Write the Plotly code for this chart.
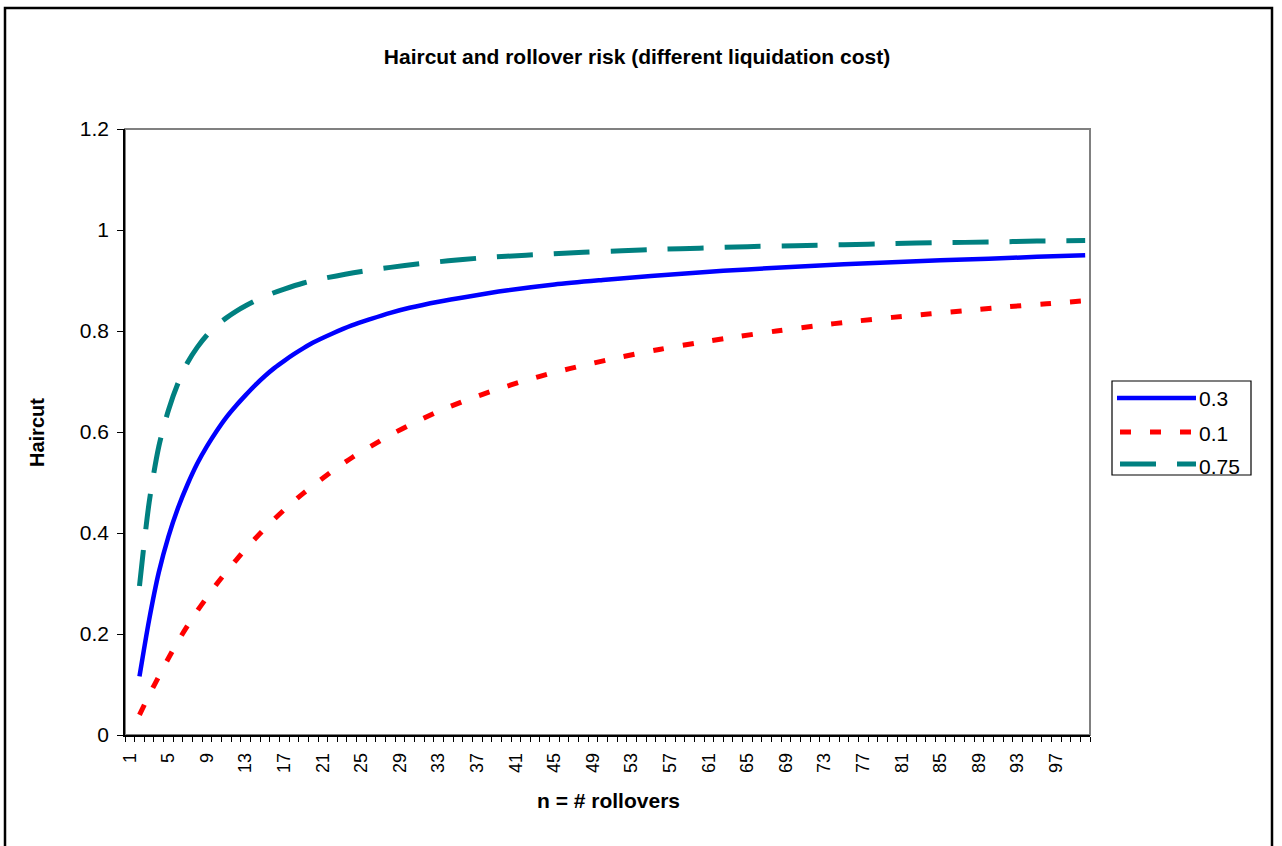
import plotly.graph_objects as go

# Haircut as a function of the number of rollovers, for three liquidation costs
n_03 = [2, 3, 4, 5, 6, 7, 8, 9, 10, 11, 12, 13, 14, 15, 16, 17, 18, 19, 20,
        22, 24, 26, 28, 30, 33, 36, 40, 45, 50, 55, 60, 65, 70, 75, 80, 85, 90, 95, 100]
h_03 = [0.116, 0.228, 0.322, 0.393, 0.450, 0.497, 0.538, 0.572, 0.602, 0.629,
        0.652, 0.673, 0.693, 0.711, 0.727, 0.741, 0.754, 0.766, 0.777,
        0.795, 0.811, 0.824, 0.836, 0.846, 0.858, 0.868, 0.880, 0.892, 0.901,
        0.909, 0.916, 0.922, 0.927, 0.932, 0.936, 0.940, 0.943, 0.947, 0.950]

n_01 = [2, 3, 4, 5, 6, 7, 8, 9, 10, 11, 12, 13, 14, 15, 16, 17, 18, 19, 20,
        22, 24, 26, 28, 30, 33, 36, 39, 42, 45, 48, 52, 56, 60, 64, 68, 72, 76,
        80, 84, 88, 92, 96, 100]
h_01 = [0.040, 0.079, 0.116, 0.152, 0.186, 0.217, 0.246, 0.273, 0.299, 0.323,
        0.346, 0.368, 0.389, 0.409, 0.428, 0.446, 0.463, 0.479, 0.494,
        0.523, 0.549, 0.572, 0.594, 0.614, 0.641, 0.664, 0.684, 0.702, 0.718,
        0.732, 0.749, 0.764, 0.777, 0.789, 0.800, 0.810, 0.819, 0.827, 0.834,
        0.841, 0.848, 0.854, 0.860]

n_075 = [2, 3, 4, 5, 6, 7, 8, 9, 10, 11, 12, 13, 15, 17, 19, 21, 25, 28, 31,
         34, 37, 40, 44, 48, 52, 56, 60, 65, 70, 75, 80, 85, 90, 95, 100]
h_075 = [0.295, 0.460, 0.571, 0.643, 0.697, 0.738, 0.768, 0.792, 0.811, 0.826,
         0.839, 0.850, 0.869, 0.883, 0.895, 0.904, 0.918, 0.926, 0.933,
         0.939, 0.944, 0.948, 0.952, 0.956, 0.959, 0.962, 0.964, 0.967, 0.969,
         0.971, 0.973, 0.975, 0.976, 0.978, 0.979]

series_names = ["0.3", "0.1", "0.75"]
x_ticks = list(range(1, 101, 4))

W, H = 1282, 846
L, R, T, B = 125, 1090, 129, 735  # plot area in pixels


def px_x(p):
    return (p - L) / (R - L)


def px_y(p):
    return (B - p) / (B - T)


FONT = "Liberation Sans, Arial, sans-serif"

BLUE = "#0000FF"
RED = "#FF0000"
TEAL = "#008080"
RED_DASH = "11px,19px"
TEAL_DASH = "36px,21px"

fig = go.Figure()
fig.add_trace(go.Scatter(x=n_03, y=h_03, mode="lines", name=series_names[0],
                         line=dict(color=BLUE, width=4.5, shape="spline", smoothing=0.8)))
fig.add_trace(go.Scatter(x=n_01, y=h_01, mode="lines", name=series_names[1],
                         line=dict(color=RED, width=5, dash=RED_DASH, shape="spline", smoothing=0.8)))
fig.add_trace(go.Scatter(x=n_075, y=h_075, mode="lines", name=series_names[2],
                         line=dict(color=TEAL, width=5, dash=TEAL_DASH, shape="spline", smoothing=0.8)))

shapes = [
    # outer chart frame
    dict(type="rect", xref="paper", yref="paper",
         x0=px_x(5), x1=px_x(1272), y0=px_y(880), y1=px_y(8),
         line=dict(color="black", width=2.5)),
    # plot area border
    dict(type="rect", xref="paper", yref="paper", x0=0, x1=1, y0=0, y1=1,
         line=dict(color="#808080", width=2), layer="below"),
    # legend box
    dict(type="rect", xref="paper", yref="paper",
         x0=px_x(1112), x1=px_x(1251), y0=px_y(475), y1=px_y(381),
         line=dict(color="black", width=1.2), fillcolor="white"),
    dict(type="line", xref="paper", yref="paper",
         x0=px_x(1117), x1=px_x(1196), y0=px_y(398), y1=px_y(398),
         line=dict(color=BLUE, width=4.5)),
    dict(type="line", xref="paper", yref="paper",
         x0=px_x(1120), x1=px_x(1192), y0=px_y(432), y1=px_y(432),
         line=dict(color=RED, width=5, dash=RED_DASH)),
    dict(type="line", xref="paper", yref="paper",
         x0=px_x(1120), x1=px_x(1196), y0=px_y(464), y1=px_y(464),
         line=dict(color=TEAL, width=5, dash=TEAL_DASH)),
]

annotations = [
    dict(text="<b>Haircut</b>", xref="paper", yref="paper",
         x=px_x(37), y=px_y(433), textangle=-90, showarrow=False,
         font=dict(family=FONT, size=20, color="black"),
         xanchor="center", yanchor="middle"),
    dict(text="<b>n = # rollovers</b>", xref="paper", yref="paper",
         x=px_x(608), y=px_y(800), showarrow=False,
         font=dict(family=FONT, size=21, color="black"),
         xanchor="center", yanchor="middle"),
]
for name, ypx in zip(series_names, [399, 433, 466]):
    annotations.append(dict(text=name, xref="paper", yref="paper",
                            x=px_x(1197), y=px_y(ypx), showarrow=False,
                            font=dict(family=FONT, size=21, color="black"),
                            xanchor="left", yanchor="middle"))

fig.update_layout(
    width=W, height=H,
    margin=dict(l=L, r=W - R, t=T, b=H - B, pad=0),
    paper_bgcolor="white", plot_bgcolor="white",
    showlegend=False,
    title=dict(text="<b>Haircut and rollover risk (different liquidation cost)</b>",
               x=637 / W, y=1 - 57 / H, xref="container", yref="container",
               xanchor="center", yanchor="middle",
               font=dict(family=FONT, size=21, color="black")),
    font=dict(family=FONT, color="black"),
    shapes=shapes,
    annotations=annotations,
)

fig.update_xaxes(
    range=[0.5, 100.5], tickmode="array", tickvals=x_ticks,
    ticktext=[str(v) for v in x_ticks], tickangle=-90,
    ticks="", showgrid=False, zeroline=False,
    showline=True, linecolor="black", linewidth=1.5,
    tickfont=dict(family=FONT, size=18, color="black"),
    ticklabelstandoff=9,
    minor=dict(tickmode="array", tickvals=[k + 0.5 for k in range(0, 101)],
               ticks="outside", ticklen=5, tickcolor="black", tickwidth=1,
               showgrid=False),
)
fig.update_yaxes(
    range=[0, 1.2], dtick=0.2, tick0=0,
    ticks="outside", ticklen=6, tickcolor="black", tickwidth=1,
    showgrid=False, zeroline=False,
    showline=True, linecolor="black", linewidth=1.5,
    tickfont=dict(family=FONT, size=21, color="black"),
    ticklabelstandoff=4,
)

fig.write_html("out.html")
